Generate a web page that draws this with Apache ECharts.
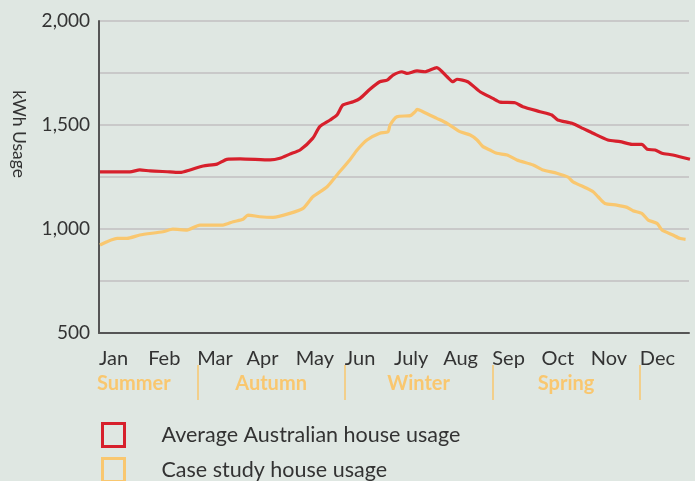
<!DOCTYPE html>
<html>
<head>
<meta charset="utf-8">
<script src="https://cdn.jsdelivr.net/npm/echarts@6/dist/echarts.min.js"></script>
<style>
html,body{margin:0;padding:0;background:#dfe7e2;}
#c{width:695px;height:481px;}
</style>
</head>
<body>
<div id="c"></div>
<script>
// Month labels (x axis in month units, 0 = start of Jan, 12 = end of Dec)
const months = ['Jan','Feb','Mar','Apr','May','Jun','July','Aug','Sep','Oct','Nov','Dec'];
const seasons = ['Summer','Autumn','Winter','Spring'];
const seasonCenters = [0.71, 3.5, 6.5, 9.5];
const seasonBreaks = [2, 5, 8, 11];
const yTicks = [500, 1000, 1500, 2000];

// Average Australian house usage: [month position, kWh]
const avgX = [0.02,0.63,0.83,1.04,1.44,1.65,1.85,2.12,2.40,2.60,2.87,3.48,3.68,3.88,4.09,4.35,4.49,4.70,4.84,4.96,5.17,5.31,5.51,5.71,5.86,5.98,6.16,6.26,6.47,6.63,6.87,7.08,7.20,7.28,7.50,7.75,8.01,8.16,8.46,8.62,8.97,9.21,9.33,9.62,9.84,10.05,10.35,10.60,10.84,11.04,11.15,11.31,11.45,11.67,12.02];
const avgY = [1275,1275,1284,1279,1275,1272,1284,1303,1312,1335,1337,1332,1340,1360,1380,1437,1492,1524,1548,1596,1612,1628,1672,1708,1716,1740,1756,1748,1760,1756,1776,1732,1708,1720,1708,1660,1628,1610,1607,1588,1564,1548,1524,1508,1484,1460,1428,1420,1407,1407,1383,1380,1364,1356,1335];

// Case study house usage
const caseX = [0.02,0.37,0.57,0.83,1.30,1.50,1.79,2.05,2.52,2.73,2.93,3.03,3.27,3.54,3.88,4.15,4.35,4.64,4.84,5.10,5.25,5.45,5.71,5.88,5.92,6.06,6.33,6.43,6.47,6.59,6.87,7.08,7.34,7.55,7.69,7.81,7.95,8.09,8.30,8.50,8.83,9.03,9.31,9.54,9.64,9.92,10.05,10.15,10.29,10.53,10.74,10.86,11.04,11.17,11.35,11.45,11.67,11.81,11.93];
const caseY = [923,955,955,971,987,999,995,1019,1019,1035,1047,1067,1059,1056,1075,1099,1155,1203,1260,1332,1380,1428,1460,1468,1500,1540,1545,1564,1575,1564,1532,1508,1468,1452,1428,1396,1380,1364,1356,1332,1308,1284,1268,1249,1227,1196,1179,1155,1123,1115,1104,1088,1075,1043,1027,995,971,955,950];

const seriesNames = ['Average Australian house usage', 'Case study house usage'];

const RED = '#d7202c';
const YEL = '#f9c76f';
const FONT = 'Lato';

const zip = (xs, ys) => xs.map((x, i) => [x, ys[i]]);

const legendBase = {
  orient: 'vertical', left: 96,
  icon: 'rect', itemWidth: 22, itemHeight: 23, itemGap: 12,
  textStyle: {color: '#333', fontSize: 21.5, fontFamily: FONT, padding: [0, 0, 0, 32]}
};

const chart = echarts.init(document.getElementById('c'), null, {renderer: 'canvas'});
chart.setOption({
  backgroundColor: '#dfe7e2',
  animation: false,
  textStyle: {fontFamily: FONT},
  grid: {left: 99, right: 6, top: 21, bottom: 148, containLabel: false},
  xAxis: [
    {
      type: 'value', min: 0, max: 12, interval: 1,
      axisLine: {show: true, onZero: false, lineStyle: {color: '#555', width: 2}},
      axisTick: {show: false},
      splitLine: {show: false},
      axisLabel: {
        color: '#333', fontSize: 20, fontFamily: FONT, align: 'left', margin: 16,
        formatter: v => (v >= 0 && v < 12 ? months[Math.round(v)] : '')
      }
    },
    {
      type: 'value', min: 0, max: 12, position: 'bottom', offset: 32,
      axisLine: {show: false},
      axisTick: {show: true, inside: false, length: 35, customValues: seasonBreaks, lineStyle: {color: YEL, width: 1.5}},
      splitLine: {show: false},
      axisLabel: {
        color: YEL, fontSize: 20, fontWeight: 'bold', fontFamily: FONT, margin: 9,
        customValues: seasonCenters,
        formatter: v => {
          const i = seasonCenters.findIndex(c => Math.abs(c - v) < 1e-6);
          return i >= 0 ? seasons[i] : '';
        }
      }
    }
  ],
  yAxis: {
    type: 'value', min: 500, max: 2000, interval: 250,
    axisLine: {show: true, lineStyle: {color: '#555', width: 2}},
    axisTick: {show: false},
    splitLine: {show: true, lineStyle: {color: '#c9c9c9', width: 2}},
    axisLabel: {
      color: '#333', fontSize: 19, fontFamily: FONT, margin: 9,
      formatter: v => (yTicks.includes(v) ? v.toLocaleString('en-US') : '')
    }
  },
  legend: [
    Object.assign({}, legendBase, {
      top: 417,
      data: [{name: seriesNames[0], itemStyle: {color: 'transparent', borderColor: RED, borderWidth: 3}}]
    }),
    Object.assign({}, legendBase, {
      top: 452,
      data: [{name: seriesNames[1], itemStyle: {color: 'transparent', borderColor: YEL, borderWidth: 3}}]
    })
  ],
  graphic: [{
    type: 'text', x: 19, y: 134, rotation: -Math.PI / 2,
    style: {text: 'kWh Usage', fill: '#333', fontSize: 17.5, fontFamily: FONT, align: 'center', verticalAlign: 'middle'}
  }],
  series: [
    {
      name: seriesNames[0], type: 'line', xAxisIndex: 0,
      data: zip(avgX, avgY), showSymbol: false, smooth: 0.2,
      lineStyle: {color: RED, width: 3.2}, itemStyle: {color: RED}
    },
    {
      name: seriesNames[1], type: 'line', xAxisIndex: 0,
      data: zip(caseX, caseY), showSymbol: false, smooth: 0.2,
      lineStyle: {color: YEL, width: 3.2}, itemStyle: {color: YEL}
    }
  ]
});
</script>
</body>
</html>
